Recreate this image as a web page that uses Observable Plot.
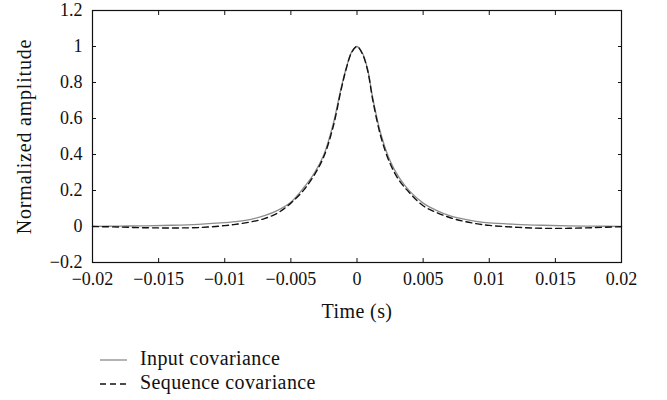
<!DOCTYPE html>
<html>
<head>
<meta charset="utf-8">
<script src="https://cdn.jsdelivr.net/npm/d3@7"></script>
<script src="https://cdn.jsdelivr.net/npm/@observablehq/plot@0.6"></script>
<style>
  body { margin: 0; background: white; }
  #chart svg { display: block; }
  #legend { display: block; }
</style>
</head>
<body>
<div id="chart"></div>
<div id="legend"></div>
<script>
// Time axis (s)
const time = [-0.02, -0.018, -0.016, -0.014, -0.012, -0.01, -0.009, -0.008, -0.007, -0.006, -0.005, -0.004, -0.0032, -0.0025, -0.0018, -0.0012, -0.0008, -0.0004, 0, 0.0004, 0.0008, 0.0012, 0.0018, 0.0025, 0.0032, 0.004, 0.005, 0.006, 0.007, 0.008, 0.009, 0.01, 0.012, 0.014, 0.016, 0.018, 0.02];
// Input covariance (solid grey)
const inputCov = [0.001, 0.002, 0.004, 0.007, 0.012, 0.021, 0.028, 0.040, 0.060, 0.090, 0.135, 0.218, 0.300, 0.400, 0.570, 0.770, 0.885, 0.970, 1.0, 0.965, 0.875, 0.710, 0.515, 0.365, 0.270, 0.195, 0.130, 0.090, 0.060, 0.042, 0.029, 0.020, 0.012, 0.007, 0.004, 0.002, 0.001];
// Sequence covariance (dashed black)
const seqCov = [0.0, -0.003, -0.007, -0.008, -0.006, 0.005, 0.014, 0.026, 0.044, 0.075, 0.130, 0.205, 0.290, 0.390, 0.555, 0.760, 0.880, 0.968, 1.0, 0.960, 0.868, 0.700, 0.500, 0.350, 0.255, 0.185, 0.115, 0.078, 0.050, 0.030, 0.016, 0.006, -0.004, -0.010, -0.010, -0.006, -0.001];
const xTicks = [-0.02, -0.015, -0.01, -0.005, 0, 0.005, 0.01, 0.015, 0.02];
const yTicks = [-0.2, 0, 0.2, 0.4, 0.6, 0.8, 1, 1.2];
const seriesNames = ["Input covariance", "Sequence covariance"];

const data = time.map((t, i) => ({t, input: inputCov[i], seq: seqCov[i]}));
const font = "'Liberation Serif', 'DejaVu Serif', serif";

const chart = Plot.plot({
  width: 667,
  height: 335,
  marginLeft: 92,
  marginRight: 46,
  marginTop: 10,
  marginBottom: 73,
  style: {fontFamily: font, fontSize: "18px", color: "#111", background: "white"},
  x: {domain: [-0.02, 0.02]},
  y: {domain: [-0.2, 1.2]},
  marks: [
    Plot.axisX({ticks: xTicks, tickSize: -4, tickPadding: 14, tickFormat: d3.format("~g"), label: null}),
    Plot.axisX({anchor: "top", ticks: xTicks, tickSize: -4, tickFormat: () => "", label: null}),
    Plot.axisY({ticks: yTicks, tickSize: -4, tickPadding: 14, tickFormat: d3.format("~g"), label: null}),
    Plot.axisY({anchor: "right", ticks: yTicks, tickSize: -4, tickFormat: () => "", label: null}),
    Plot.text(["Time (s)"], {frameAnchor: "bottom", dy: 55, lineAnchor: "bottom", fontSize: 20, fill: "#111"}),
    Plot.text(["Normalized amplitude"], {frameAnchor: "left", textAnchor: "middle", dx: -62, dy: 0, rotate: -90, lineAnchor: "bottom", fontSize: 20, fill: "#111"}),
    Plot.line(data, {x: "t", y: "input", stroke: "#8c8c8c", strokeWidth: 1.3, curve: "catmull-rom"}),
    Plot.line(data, {x: "t", y: "seq", stroke: "#111", strokeWidth: 1.4, strokeDasharray: "6,4", curve: "catmull-rom"}),
    Plot.frame({stroke: "#111", strokeWidth: 1.2})
  ]
});
chart.querySelectorAll("text").forEach(el => {
  if (el.textContent === "Time (s)") el.style.letterSpacing = "0.4px";
  if (el.textContent === "Normalized amplitude") el.style.letterSpacing = "0.8px";
});
document.getElementById("chart").appendChild(chart);

// Legend below the chart
const lg = d3.select("#legend").append("svg").attr("width", 667).attr("height", 65)
  .style("font-family", font).style("font-size", "20px").style("letter-spacing", "0.4px");
const styles = [{stroke: "#8c8c8c", dash: null, w: 1.3}, {stroke: "#111", dash: "6,4", w: 1.4}];
seriesNames.forEach((name, i) => {
  const y = 25 + i * 24;
  lg.append("line").attr("x1", 100).attr("x2", 127).attr("y1", y).attr("y2", y)
    .attr("stroke", styles[i].stroke).attr("stroke-width", styles[i].w)
    .attr("stroke-dasharray", styles[i].dash);
  lg.append("text").attr("x", 140).attr("y", y + 5).attr("fill", "#111").text(name);
});
</script>
</body>
</html>
